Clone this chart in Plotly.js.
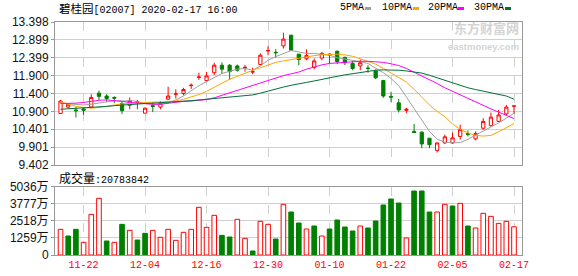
<!DOCTYPE html>
<html><head><meta charset="utf-8">
<script src="https://cdn.plot.ly/plotly-3.0.1.min.js"></script>
<style>html,body{margin:0;padding:0;background:#fff;}#chart{width:578px;height:276px;}</style>
</head><body><div id="chart"></div>
<script>
// ---- data ----
const dates = ["2019-11-19","2019-11-20","2019-11-21","2019-11-22","2019-11-25","2019-11-26","2019-11-27","2019-11-28","2019-11-29","2019-12-02",
"2019-12-03","2019-12-04","2019-12-05","2019-12-06","2019-12-09","2019-12-10","2019-12-11","2019-12-12","2019-12-13","2019-12-16",
"2019-12-17","2019-12-18","2019-12-19","2019-12-20","2019-12-23","2019-12-24","2019-12-27","2019-12-30","2019-12-31","2020-01-02",
"2020-01-03","2020-01-06","2020-01-07","2020-01-08","2020-01-09","2020-01-10","2020-01-13","2020-01-14","2020-01-15","2020-01-16",
"2020-01-17","2020-01-20","2020-01-21","2020-01-22","2020-01-23","2020-01-24","2020-01-29","2020-01-30","2020-01-31","2020-02-03",
"2020-02-04","2020-02-05","2020-02-06","2020-02-07","2020-02-10","2020-02-11","2020-02-12","2020-02-13","2020-02-14","2020-02-17"];

const open  = [10.84,11.02,10.94,10.97,11.02,11.41,11.33,11.29,11.12,11.07, 11.15,10.85,11.06,11.02,11.24,11.38,11.40,11.62,11.85,11.76,
               11.98,12.19,12.19,12.17,12.11,12.00,12.21,12.59,12.55,12.73, 13.03,12.50,12.37,12.13,12.39,12.50,12.58,12.41,12.24,12.17,
               12.11,12.03,11.76,11.32,11.14,10.93,10.34,10.32,10.15,9.81, 10.02,10.02,10.20,10.28,10.13,10.43,10.50,10.62,10.83,11.05];
const high  = [11.22,11.13,11.02,11.02,11.38,11.48,11.38,11.32,11.17,11.29, 11.22,11.00,11.16,11.18,11.59,11.52,11.56,11.68,11.98,12.00,
               12.26,12.27,12.22,12.21,12.20,12.12,12.52,12.72,12.64,13.10, 13.03,12.50,12.63,12.38,12.56,12.52,12.60,12.43,12.31,12.35,
               12.19,12.07,11.78,11.45,11.25,11.00,10.55,10.34,10.15,10.02, 10.25,10.31,10.53,10.37,10.34,10.71,10.87,10.94,11.08,11.05];
const low   = [10.84,10.99,10.73,10.80,11.01,11.22,11.16,11.13,10.83,10.96, 10.96,10.85,10.88,10.96,11.22,11.26,11.35,11.53,11.78,11.74,
               11.92,11.95,11.78,12.01,12.01,11.94,12.19,12.47,12.40,12.66, 12.61,12.19,12.33,12.07,12.33,12.24,12.22,12.19,12.05,12.05,
               11.98,11.80,11.28,11.16,10.87,10.85,10.30,9.87,9.87,9.75, 9.99,9.99,10.11,10.20,10.09,10.39,10.48,10.60,10.80,10.83];
const close = [11.19,11.10,10.92,10.93,11.29,11.32,11.26,11.27,10.92,11.20, 11.17,10.99,11.04,11.13,11.33,11.39,11.51,11.63,11.86,11.89,
               12.19,12.08,12.01,12.05,12.13,12.01,12.47,12.60,12.54,12.92, 12.61,12.35,12.46,12.31,12.52,12.48,12.29,12.26,12.10,12.26,
               12.10,11.84,11.33,11.30,10.94,10.96,10.31,9.99,9.97,10.02, 10.19,10.16,10.39,10.26,10.28,10.62,10.74,10.80,11.02,11.05];

// volume in 万 shares
const volume = [1892,1400,1892,934,2998,4177,1032,934,2260,1818, 1106,1597,1818,1302,1892,1081,1671,1892,3514,2039,
                2924,1450,1327,2629,1229,295,2482,2260,1179,3735, 3170,2359,1916,2138,1400,1916,2580,2064,1769,2138,
                1990,2506,3686,4128,3833,1253,4717,4717,3170,3170, 3735,3612,3808,2138,1990,3071,2850,2334,2482,2078.3842];

const ma5  = [11.13,11.12,11.10,11.08,11.10,11.14,11.17,11.20,11.19,11.20, 11.18,11.12,11.10,11.10,11.14,11.22,11.33,11.48,11.62,11.73,
              11.84,11.96,12.02,12.08,12.10,12.05,12.17,12.33,12.43,12.52, 12.60,12.56,12.52,12.52,12.50,12.47,12.40,12.37,12.33,12.29,
              12.24,12.12,11.98,11.82,11.62,11.30,10.98,10.68,10.34,10.12, 10.04,10.02,10.03,10.12,10.23,10.34,10.45,10.58,10.71,10.85];
const ma10 = [11.17,11.10,11.04,11.01,10.99,11.01,11.05,11.08,11.11,11.12, 11.14,11.15,11.16,11.16,11.17,11.19,11.24,11.30,11.37,11.46,
              11.58,11.70,11.80,11.88,11.97,12.05,12.12,12.20,12.27,12.31, 12.35,12.38,12.43,12.46,12.48,12.50,12.50,12.48,12.44,12.37,
              12.30,12.22,12.10,11.98,11.86,11.72,11.52,11.30,11.08,10.90, 10.75,10.55,10.40,10.30,10.23,10.21,10.23,10.33,10.45,10.56];
const ma20 = [11.12,11.12,11.13,11.15,11.19,11.21,11.22,11.21,11.18,11.15, 11.13,11.11,11.10,11.10,11.13,11.16,11.18,11.19,11.21,11.23,
              11.28,11.35,11.43,11.49,11.56,11.63,11.70,11.77,11.84,11.90, 11.95,12.00,12.08,12.15,12.20,12.24,12.26,12.28,12.29,12.30,
              12.30,12.29,12.27,12.23,12.18,12.10,12.00,11.90,11.79,11.68, 11.56,11.46,11.36,11.26,11.15,11.06,10.97,10.88,10.79,10.70];
const ma30 = [10.96,10.97,10.98,10.99,11.01,11.02,11.04,11.06,11.08,11.10, 11.11,11.12,11.13,11.14,11.16,11.17,11.19,11.20,11.22,11.24,
              11.26,11.27,11.28,11.30,11.33,11.36,11.41,11.47,11.54,11.58, 11.63,11.68,11.71,11.75,11.80,11.85,11.88,11.92,11.95,12.00,
              12.03,12.05,12.06,12.06,12.05,12.03,12.01,11.97,11.91,11.84, 11.75,11.68,11.61,11.56,11.51,11.47,11.42,11.38,11.33,11.24];

const tickDates = ["2019-11-22","2019-12-04","2019-12-16","2019-12-30","2020-01-10","2020-01-22","2020-02-05","2020-02-17"];
const tickDateText = ["11-22","12-04","12-16","12-30","01-10","01-22","02-05","02-17"];
const priceTicks = [9.402,9.901,10.401,10.900,11.400,11.900,12.399,12.899,13.398];
const priceTickText = ["9.402","9.901","10.401","10.900","11.400","11.900","12.399","12.899","13.398"];
const volTicks = [0,1259,2518,3777,5036];
const volTickText = ["0","1259万","2518万","3777万","5036万"];

const stockName = "碧桂园";
const stockCode = "[02007]";
const stamp = "2020-02-17 16:00";
const lastVolume = "20783842";
const maNames = ["5PMA","10PMA","20PMA","30PMA"];

// ---- styling ----
const RED = "#ff0000", GREEN = "#008000";
const maColors = ["#a0a0a0","#ffa500","#ff00ff","#00703a"];
const GRID = "#d0d0d0", FRAME = "#999999";

// volume colour: compare close with previous close
const volUp = close.map((c,i)=> i===0 ? true : c >= close[i-1]);

const traces = [
  {type:"candlestick", x:dates, open:open, high:high, low:low, close:close, xaxis:"x", yaxis:"y",
   increasing:{line:{color:RED,width:1}, fillcolor:"#ffffff"},
   decreasing:{line:{color:GREEN,width:1}, fillcolor:GREEN},
   whiskerwidth:0, hoverinfo:"skip"}
];
[ma5,ma10,ma20,ma30].forEach((m,k)=>{
  traces.push({type:"scatter", mode:"lines", x:dates, y:m, xaxis:"x", yaxis:"y",
    line:{color:maColors[k], width:1}, hoverinfo:"skip"});
});
traces.push({type:"bar", x:dates, y:volume, xaxis:"x2", yaxis:"y2", width:0.6,
  marker:{color:volUp.map(u=>u?"#ffffff":GREEN), line:{color:volUp.map(u=>u?RED:GREEN), width:1}},
  hoverinfo:"skip"});

// layout helpers (pixel -> paper)
const L=55, R=522, T=22, B=255;
const px = x => (x-L)/(R-L);
const py = y => (B-y)/(B-T);

const annotations = [
  {xref:"paper", yref:"paper", x:px(57), y:py(8), xanchor:"left", yanchor:"middle", showarrow:false,
   text:'<span style="font-family:Noto Sans CJK SC;font-size:11.5px">'+stockName+'</span>'+stockCode+' '+stamp,
   font:{family:"Liberation Mono", size:10, color:"#000"}},
  {xref:"paper", yref:"paper", x:px(57), y:py(177.5), xanchor:"left", yanchor:"middle", showarrow:false,
   text:'<span style="font-family:Noto Sans CJK SC;font-size:12px">成交量</span>:'+lastVolume,
   font:{family:"Liberation Mono", size:10, color:"#000"}},
  {xref:"paper", yref:"paper", x:px(521), y:py(35), xanchor:"right", yanchor:"middle", align:"right", showarrow:false,
   text:'<b>东方财富网</b><br><span style="font-family:Liberation Sans;font-size:9.5px"><b>eastmoney.com</b></span>',
   font:{family:"Noto Sans CJK SC", size:13, color:"#d4d4d4"}}
];
const legX = [338,380,426,472];
const legMark = [365,413,458,505];
const shapes = [];
maNames.forEach((n,k)=>{
  annotations.push({xref:"paper", yref:"paper", x:px(legX[k]), y:py(8), xanchor:"left", yanchor:"middle",
    showarrow:false, text:n, font:{family:"Liberation Mono", size:10, color:"#000"}});
  shapes.push({type:"rect", xref:"paper", yref:"paper", x0:px(legMark[k]), x1:px(legMark[k]+6),
    y0:py(10), y1:py(7), fillcolor:maColors[k], line:{width:0}});
});

const xCommon = {type:"category", range:[-0.72,60.04], tickvals:tickDates, ticktext:tickDateText,
  showgrid:true, gridcolor:GRID, griddash:"dash", gridwidth:1, showline:true, mirror:true,
  linecolor:FRAME, linewidth:1, ticks:"", zeroline:false, fixedrange:true};

const layout = {
  width:578, height:276, margin:{l:L, r:578-R, t:T, b:276-B, pad:0},
  paper_bgcolor:"#fff", plot_bgcolor:"#fff", showlegend:false, boxgap:0.4, bargap:0,
  xaxis:Object.assign({}, xCommon, {anchor:"y", showticklabels:false, rangeslider:{visible:false}}),
  yaxis:{domain:[py(165),1], range:[9.402,13.398], tickvals:priceTicks, ticktext:priceTickText,
    showgrid:true, gridcolor:GRID, gridwidth:1, showline:true, mirror:true, linecolor:FRAME, linewidth:1,
    ticks:"outside", ticklen:3, tickcolor:FRAME, zeroline:false,
    tickfont:{family:"Liberation Sans", size:12, color:"#111"}},
  xaxis2:Object.assign({}, xCommon, {anchor:"y2", showticklabels:true,
    tickfont:{family:"Liberation Mono", size:10, color:RED}}),
  yaxis2:{domain:[0,py(186.7)], range:[0,5036], tickvals:volTicks, ticktext:volTickText,
    showgrid:true, gridcolor:GRID, gridwidth:1, showline:true, mirror:true, linecolor:FRAME, linewidth:1,
    ticks:"outside", ticklen:3, tickcolor:FRAME, zeroline:false,
    tickfont:{family:"Liberation Sans, Noto Sans CJK SC", size:12, color:"#111"}},
  annotations:annotations, shapes:shapes
};
Plotly.newPlot("chart", traces, layout, {displayModeBar:false, staticPlot:true});
</script></body></html>
